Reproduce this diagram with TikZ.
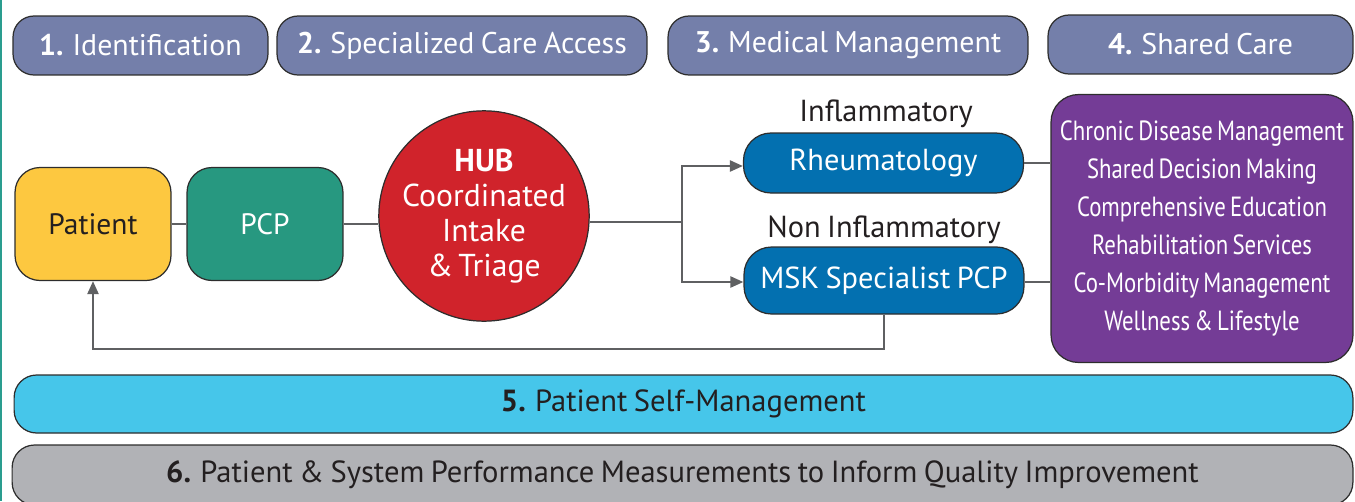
\documentclass[tikz,border=0pt]{standalone}
\usepackage{fontspec}
\setmainfont[WordSpace=0.8]{PT Sans}
\newfontfamily\narrowfont[FakeStretch=0.82, WordSpace=0.7]{PT Sans}
\usetikzlibrary{arrows.meta,positioning,calc}

\definecolor{tabblue}{RGB}{116,127,170}
\definecolor{patientyellow}{RGB}{253,200,64}
\definecolor{pcpgreen}{RGB}{39,152,128}
\definecolor{hubred}{RGB}{208,35,43}
\definecolor{specblue}{RGB}{3,112,176}
\definecolor{sharedpurple}{RGB}{116,60,150}
\definecolor{selfcyan}{RGB}{70,198,234}
\definecolor{measgrey}{RGB}{177,178,182}
\definecolor{linkgrey}{RGB}{95,96,98}
\definecolor{edgegrey}{RGB}{45,45,45}
\definecolor{inkdark}{RGB}{35,31,32}
\definecolor{frameteal}{RGB}{42,157,143}

\begin{document}
\begin{tikzpicture}[x=0.02cm, y=-0.02cm,
  >={Triangle[length=0.26cm, width=0.22cm]},
  every node/.style={font=\fontsize{16}{19}\selectfont},
  block/.style={rectangle, rounded corners=0.45cm, draw=edgegrey, line width=0.7pt, align=center, inner sep=0pt},
  tab/.style={block, rounded corners=0.42cm, fill=tabblue, text=white, minimum height=1.18cm, font=\fontsize{17}{20}\selectfont},
  care/.style={block, rounded corners=0.5cm, minimum width=3.12cm, minimum height=2.26cm, font=\fontsize{16.8}{19}\selectfont},
  spec/.style={block, rounded corners=0.55cm, fill=specblue, text=white, minimum width=5.6cm, font=\fontsize{17.3}{20}\selectfont},
  branch/.style={text=inkdark, inner sep=0pt, font=\fontsize{17.3}{20}\selectfont},
  bar/.style={block, rounded corners=0.45cm, text=inkdark, font=\fontsize{17.4}{20}\selectfont},
  link/.style={draw=linkgrey, line width=1.3pt}
]
\useasboundingbox (0,0) rectangle (1355,501);

% Left frame edge
\draw[frameteal, line width=1pt] (1,0) -- (1,501);

% Top row - Stage tabs
\node[tab, minimum width=5.1cm] (stageA) at (140.5,45.5) {\textbf{1.} Identification};
\node[tab, minimum width=7.4cm] (stageB) at (462,45.5) {\textbf{2.} Specialized Care Access};
\node[tab, minimum width=7.2cm] (stageC) at (848,45.5) {\textbf{3.} Medical Management};
\node[tab, minimum width=6.1cm] (stageD) at (1200.5,44.5) {\textbf{4.} Shared Care};

% Entry - Patient and PCP
\node[care, fill=patientyellow, text=inkdark] (patient) at (93,224) {Patient};
\node[care, fill=pcpgreen, text=white] (pcp) at (265,224) {PCP};

% Hub
\node[circle, draw=edgegrey, line width=0.7pt, fill=hubred, text=white, minimum size=4.2cm, inner sep=0pt, align=center,
  font=\fontsize{18}{19.8}\selectfont] (hub) at (484,216) {\textbf{HUB}\\Coordinated\\Intake\\\&\,Triage};

% Specialist routes
\node[spec, minimum height=1.2cm] (rheum) at (883.5,163) {Rheumatology};
\node[spec, minimum height=1.34cm] (msk) at (884,280.5) {MSK Specialist PCP};
\node[branch] (inflam) at (886,114) {Inflammatory};
\node[branch] (noninflam) at (884,230) {Non Inflammatory};

% Shared care services
\node[block, rounded corners=0.55cm, fill=sharedpurple, text=white, minimum width=6.04cm, minimum height=5.36cm,
  font=\narrowfont\fontsize{15.8}{21.6}\selectfont] (shared) at (1202,228.5)
  {Chronic Disease Management\\Shared Decision Making\\Comprehensive Education\\Rehabilitation Services\\Co-Morbidity Management\\Wellness \& Lifestyle};

% Bottom bars
\node[bar, fill=selfcyan, minimum width=26.78cm, minimum height=1.16cm] (selfmgmt) at (683.5,404) {\textbf{5.} Patient Self-Management};
\node[bar, fill=measgrey, minimum width=26.82cm, minimum height=1.2cm] (measure) at (682.5,475) {\textbf{6.} Patient \& System Performance Measurements to Inform Quality Improvement};

% Connectors
\coordinate (split) at (682,222);
\coordinate (back) at (884,349);
\draw[link] (patient.east) -- (pcp.west);
\draw[link] (pcp.east) -- (pcp.east -| hub.west);
\draw[link] (split -| hub.east) -- (split);
\draw[link, ->] (split) |- (rheum.west |- 0,166);
\draw[link, ->] (split) |- (msk.west |- 0,282);
\draw[link] (rheum.east) -- (rheum.east -| shared.west);
\draw[link] (msk.east |- 0,282) -- (shared.west |- 0,282);
\draw[link, ->] (msk.south) -- (back) -| (patient.south);

\end{tikzpicture}
\end{document}
